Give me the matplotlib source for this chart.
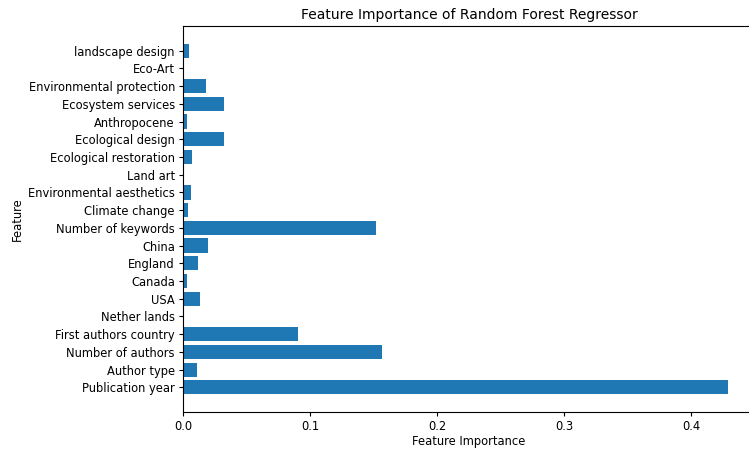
import matplotlib.pyplot as plt

features = ["Publication year", "Author type", "Number of authors", "First authors country",
            "Nether lands", "USA", "Canada", "England", "China", "Number of keywords",
            "Climate change", "Environmental aesthetics", "Land art", "Ecological restoration",
            "Ecological design", "Anthropocene", "Ecosystem services", "Environmental protection",
            "Eco-Art", "landscape design"]
importance = [0.429, 0.0113, 0.157, 0.0905,
              0.0, 0.0135, 0.0028, 0.0115, 0.0200, 0.152,
              0.0042, 0.0060, 0.0, 0.0068,
              0.0325, 0.0030, 0.0325, 0.0180,
              0.0, 0.0045]

plt.rcParams.update({
    "font.size": 8.3,
    "xtick.major.size": 2.9,
    "ytick.major.size": 2.9,
    "xtick.major.pad": 2.9,
    "ytick.major.pad": 2.9,
    "axes.labelpad": 3.3,
})

fig = plt.figure(figsize=(7.49, 4.5), dpi=100)
ax = fig.add_axes([183 / 749, 38 / 450, 572 / 749, 386 / 450])
ax.barh(features, importance, color="C0")
ax.set_xlabel("Feature Importance", labelpad=1.5)
ax.set_ylabel("Feature")
ax.set_title("Feature Importance of Random Forest Regressor", fontsize=10, pad=5)

fig.savefig("out.png", dpi=100)
